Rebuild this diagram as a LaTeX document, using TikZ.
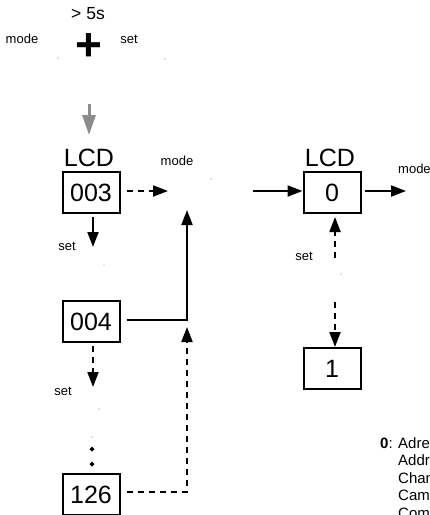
\documentclass[tikz,border=0pt]{standalone}
\usepackage{fontspec}
\setmainfont{Liberation Sans}
\usetikzlibrary{arrows.meta}
\begin{document}
\begin{tikzpicture}[x=1pt,y=-1pt,
  lcdbox/.style={draw,line width=2pt,minimum width=57pt,minimum height=41pt,inner sep=0pt,font=\fontsize{25}{28}\selectfont},
  bigtxt/.style={inner sep=0pt,font=\fontsize{25}{28}\selectfont},
  small/.style={inner sep=0pt,font=\fontsize{13}{15}\selectfont},
  legend/.style={inner sep=0pt,anchor=base west,font=\fontsize{15}{17}\selectfont},
  arr/.style={line width=2pt,-{Triangle[length=15pt,width=11pt]}},
  dsh/.style={dash pattern=on 6pt off 5pt},
  dotmark/.style={fill=gray,inner sep=0pt,minimum size=1.3pt,circle}
]
\useasboundingbox (0,0) rectangle (430,515);
\clip (0,0) rectangle (430,515);

% top
\node[inner sep=0pt,font=\fontsize{17.5}{20}\selectfont] (t5s) at (88,14) {> 5s};
\node[inner sep=0pt,text height=28pt,text depth=0pt,font=\fontsize{46}{50}\bfseries] (plus) at (89,46.5) {+};
\node[small] (mtop) at (22,39) {mode};
\node[small] (stop) at (129,39) {set};
\node[dotmark] (d1) at (58,58) {};
\node[dotmark] (d2) at (165,59) {};
\coordinate (ga) at (89,104);
\coordinate (gb) at (89,135);
\draw[line width=3pt,color=gray!90,-{Triangle[length=20pt,width=13pt]}] (ga) -- (gb);

% left column
\node[bigtxt] (lcd1) at (89,158) {LCD};
\node[lcdbox] (b003) at (91,192.5) {003};
\node[lcdbox] (b004) at (91,321.5) {004};
\node[lcdbox] (b126) at (91,494.5) {126};

\coordinate (j1) at (187,191);
\coordinate (j2) at (187,320);
\coordinate (c1) at (93,247);
\coordinate (c2) at (93,387);

\draw[arr,dsh,shorten <=6pt,shorten >=19pt] (b003.east |- j1) -- (j1);
\draw[arr,shorten <=6pt,shorten >=19pt] (b004.east |- j2) -| (j1);
\draw[arr,dsh,shorten <=6pt,shorten >=7pt] ([yshift=3pt]b126.east) -| (j2);
\draw[arr,shorten <=3pt] (b003.south -| c1) -- (c1);
\draw[arr,dsh,shorten <=3pt] (b004.south -| c2) -- (c2);

\node[small] (mmid) at (177,161) {mode};
\node[small] (s1) at (67,246) {set};
\node[small] (s2) at (63,391) {set};
\node[dotmark] (d3) at (211,179) {};
\node[dotmark] (d4) at (104,265) {};
\node[dotmark] (d5) at (99,409) {};
\node[dotmark] (d6) at (92,437) {};
\fill (92,446.5) -- (94.5,449) -- (92,451.5) -- (89.5,449) -- cycle;
\fill (92,461.5) -- (94.5,464) -- (92,466.5) -- (89.5,464) -- cycle;

% right column
\node[bigtxt] (lcd2) at (330,158) {LCD};
\node[lcdbox] (b0) at (332,192.5) {0};
\node[lcdbox] (b1) at (332,368.5) {1};
\coordinate (j3) at (253,191);
\coordinate (o1) at (406,191);
\coordinate (s0) at (335,258);
\coordinate (s3) at (335,302);
\draw[arr] (j3) -- (j3 -| b0.west);
\draw[arr,shorten <=3pt] (b0.east |- o1) -- (o1);
\draw[arr,dsh,shorten >=3pt] (s0) -- (s0 |- b0.south);
\draw[arr,dsh] (s3) -- (s3 |- b1.north);
\node[small,anchor=west] (mright) at (398,169) {mode};
\node[small] (s4) at (304,256) {set};
\node[dotmark] (d7) at (341,274) {};

% legend
\node[legend] (l0) at (380,448) {\textbf{0}:};
\node[legend] (l1) at (398,448) {Adresse};
\node[legend] (l2) at (398,465.5) {Address};
\node[legend] (l3) at (398,483) {Channel};
\node[legend] (l4) at (398,500.5) {Camera};
\node[legend] (l5) at (398,518) {Command};
\end{tikzpicture}
\end{document}
